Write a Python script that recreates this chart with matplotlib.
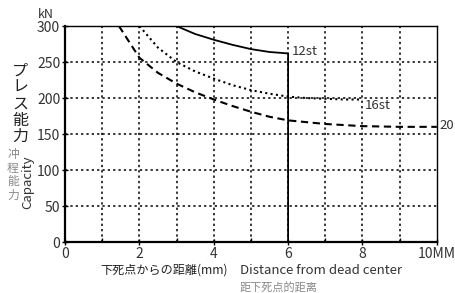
import matplotlib
matplotlib.use("Agg")
import matplotlib.pyplot as plt

plt.rcParams["font.family"] = ["Noto Sans CJK JP", "DejaVu Sans"]

# distance from bottom dead center (mm) vs press capacity (kN)
dist_12st = [3.0, 3.5, 4.0, 4.5, 5.0, 5.5, 6.0, 6.0]
cap_12st = [300, 289, 281, 274, 268, 264, 262, 0]

dist_16st = [2.0, 2.5, 3.0, 3.5, 4.0, 4.5, 5.0, 5.5, 6.0, 6.5, 7.0, 7.5, 8.0]
cap_16st = [300, 270, 250, 237, 227, 218, 211, 206, 202, 200, 199, 198, 198]

dist_20st = [1.45, 2.0, 2.5, 3.0, 3.5, 4.0, 4.5, 5.0, 5.5, 6.0, 7.0, 8.0, 9.0, 10.0]
cap_20st = [300, 256, 235, 220, 208, 198, 189, 181, 174, 169, 164, 161, 160, 160]

x_ticks = [0, 2, 4, 6, 8, 10]
x_tick_labels = ["0", "2", "4", "6", "8", "10MM"]
y_ticks = [0, 50, 100, 150, 200, 250, 300]

fig = plt.figure(figsize=(4.55, 2.93), dpi=100)
ax = fig.add_axes([0.143, 0.174, 0.817, 0.737])

ax.set_xlim(0, 10)
ax.set_ylim(0, 300)
ax.set_xticks(x_ticks)
ax.set_xticklabels(x_tick_labels)
ax.set_xticks([1, 3, 5, 7, 9], minor=True)
ax.set_yticks(y_ticks)
ax.tick_params(axis="both", which="major", direction="inout", length=5, width=1,
               labelsize=10, labelcolor="#333333", pad=1)
ax.tick_params(axis="x", which="minor", direction="in", length=3, width=1)

for x in range(1, 10):
    ax.axvline(x, color="black", linestyle=(0, (1.5, 2.0)), linewidth=1.1, zorder=1)
for y in range(50, 300, 50):
    ax.axhline(y, color="black", linestyle=(0, (1.5, 2.0)), linewidth=1.1, zorder=1)

for side in ["left", "bottom"]:
    ax.spines[side].set_linewidth(1.6)
for side in ["top", "right"]:
    ax.spines[side].set_linewidth(1.0)

ax.plot(dist_12st, cap_12st, color="black", linewidth=1.3, zorder=3)
ax.plot(dist_16st, cap_16st, color="black", linewidth=1.5, linestyle=(0, (1, 1.6)), zorder=3)
ax.plot(dist_20st, cap_20st, color="black", linewidth=1.5, linestyle=(0, (3.5, 2.2)), zorder=3)

ax.text(6.1, 264, "12st", fontsize=9.5, color="#333333", va="center", ha="left")
ax.text(8.05, 189, "16st", fontsize=9.5, color="#333333", va="center", ha="left")
ax.text(10.08, 162, "20", fontsize=9.5, color="#333333", va="center", ha="left",
        clip_on=False)

fig.text(38 / 455, 1 - 14 / 293, "kN", fontsize=9, color="#333333", va="center", ha="left")

# y axis labels
fig.text(20 / 455, 1 - 104 / 293, "\n".join("プレス能力"), fontsize=11.5,
         color="#222222", ha="center", va="center", linespacing=0.95)
fig.text(13 / 455, 1 - 175 / 293, "\n".join("冲程能力"), fontsize=8.5,
         family=["Noto Sans CJK SC", "DejaVu Sans"], color="#888888",
         ha="center", va="center", linespacing=1.05)
fig.text(28 / 455, 1 - 182 / 293, "Capacity", fontsize=9.5, color="#333333",
         rotation=90, ha="center", va="center")

# x axis labels
fig.text(100 / 455, 1 - 270 / 293, "下死点からの距離(mm)", fontsize=8.7,
         color="#222222", ha="left", va="center")
fig.text(240 / 455, 1 - 270 / 293, "Distance from dead center", fontsize=9.5,
         color="#333333", ha="left", va="center")
fig.text(240 / 455, 1 - 287 / 293, "距下死点的距离", fontsize=8,
         family=["Noto Sans CJK SC", "DejaVu Sans"], color="#888888",
         ha="left", va="center")

fig.savefig("out.png", dpi=100)
